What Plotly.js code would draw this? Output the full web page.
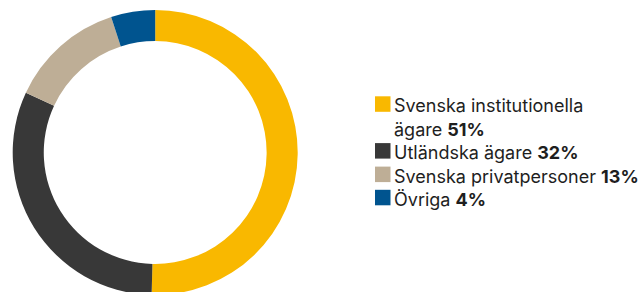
<!DOCTYPE html>
<html>
<head>
<meta charset="utf-8">
<script src="https://cdn.plot.ly/plotly-3.0.1.min.js"></script>
<style>
html,body{margin:0;padding:0;overflow:hidden;background:#fff;}
#chart{width:642px;height:300px;}
</style>
</head>
<body>
<div id="chart"></div>
<script>
// Data
const categories = ['Svenska institutionella ägare', 'Utländska ägare', 'Svenska privatpersoner', 'Övriga'];
const legendLines = [['Svenska institutionella', 'ägare'], ['Utländska ägare'], ['Svenska privatpersoner'], ['Övriga']];
const shares = [50.4, 31.5, 13.1, 5.0];            // slice sizes as drawn
const shareLabels = ['51%', '32%', '13%', '4%'];   // printed in the legend
const colors = ['#F9B800', '#383838', '#BEAE96', '#00548F'];

const W = 642, H = 300;
const px = v => v / W, py = v => 1 - v / H;

// legend row baselines (px from top)
const rowBaselines = [[112.3, 135.7], [159.1], [182.6], [205.8]];
const FS = 18;

const shapes = [], annotations = [];
categories.forEach((c, i) => {
  const b0 = rowBaselines[i][0];
  shapes.push({type: 'rect', xref: 'paper', yref: 'paper',
    x0: px(375), x1: px(390.5), y0: py(b0 - 16), y1: py(b0 - 0.5),
    fillcolor: colors[i], line: {width: 0}});
  legendLines[i].forEach((ln, j) => {
    const last = j === legendLines[i].length - 1;
    annotations.push({xref: 'paper', yref: 'paper', x: px(391.5), y: py(rowBaselines[i][j] - 6.5),
      xanchor: 'left', yanchor: 'middle', showarrow: false, align: 'left',
      text: last ? ln + ' <b>' + shareLabels[i] + '</b>' : ln,
      font: {family: 'Inter, Roboto, sans-serif', size: FS, color: '#1e1e1e'}});
  });
});

const trace = {
  type: 'pie', labels: categories, values: shares,
  marker: {colors: colors, line: {width: 0}},
  hole: 0.782, sort: false, direction: 'clockwise', rotation: 0,
  textinfo: 'none', hoverinfo: 'label+percent', showlegend: false,
  domain: {x: [px(12.7), px(297.7)], y: [py(295), py(10)]}
};

Plotly.newPlot('chart', [trace], {
  width: W, height: H, margin: {l: 0, r: 0, t: 0, b: 0},
  paper_bgcolor: '#fff', plot_bgcolor: '#fff',
  showlegend: false, shapes: shapes, annotations: annotations
}, {displayModeBar: false, staticPlot: true});
</script>
</body>
</html>
